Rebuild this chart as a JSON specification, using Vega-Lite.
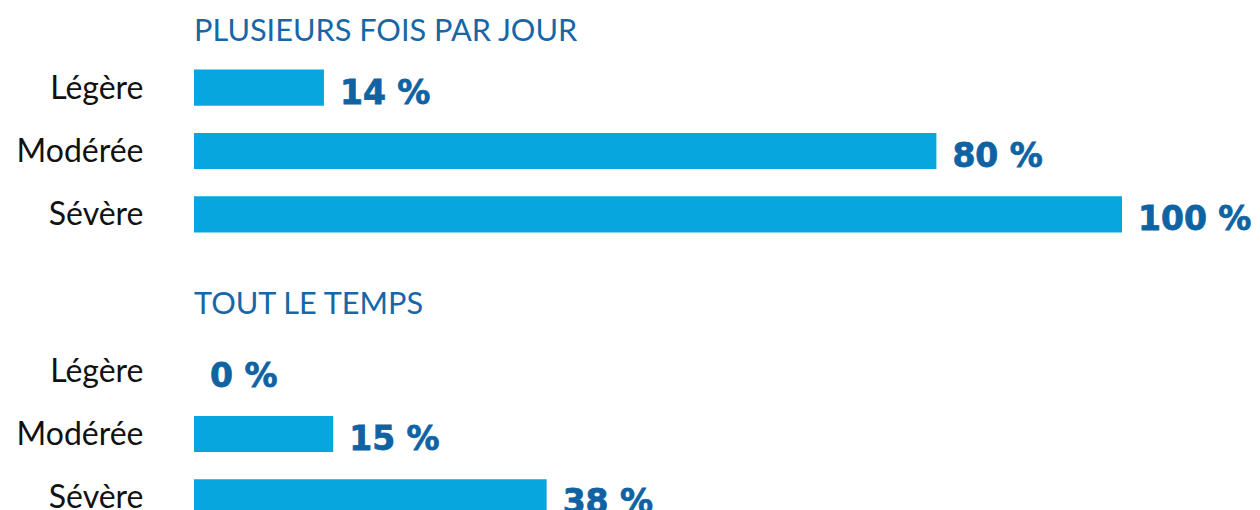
{
  "$schema": "https://vega.github.io/schema/vega-lite/v6.json",
  "padding": {"left": 0, "top": 16, "right": 0, "bottom": 0},
  "background": "white",
  "spacing": 43,
  "config": {
    "view": {"stroke": null},
    "axis": {"domain": false, "ticks": false, "grid": false}
  },
  "datasets": {
    "jour": [
      {"severite": "Légère", "valeur": 14, "label": "14 %"},
      {"severite": "Modérée", "valeur": 80, "label": "80 %"},
      {"severite": "Sévère", "valeur": 100, "label": "100 %"}
    ],
    "temps": [
      {"severite": "Légère", "valeur": 0, "label": "0 %"},
      {"severite": "Modérée", "valeur": 15, "label": "15 %"},
      {"severite": "Sévère", "valeur": 38, "label": "38 %"}
    ]
  },
  "vconcat": [
    {
      "data": {"name": "jour"},
      "width": 928,
      "height": 190,
      "title": {"text": "PLUSIEURS FOIS PAR JOUR", "anchor": "start", "frame": "group", "offset": 8, "font": "Lato", "fontSize": 30.7, "fontWeight": "normal", "color": "#1767a8"},
      "encoding": {
        "y": {"field": "severite", "type": "nominal", "sort": null, "title": null,
              "scale": {"paddingInner": 0.43, "paddingOuter": 0.215},
              "axis": {"labelFont": "Lato", "labelFontSize": 32, "labelColor": "#111111", "labelPadding": 51, "labelOffset": 1, "minExtent": 194, "maxExtent": 194}},
        "x": {"field": "valeur", "type": "quantitative", "scale": {"domain": [0, 100]}, "axis": null}
      },
      "layer": [
        {"mark": {"type": "bar", "color": "#07a6df"}},
        {"mark": {"type": "text", "align": "left", "baseline": "alphabetic", "dx": 16, "dy": 16, "font": "DejaVu Sans", "fontWeight": "bold", "fontSize": 33, "color": "#0f63a3", "stroke": "#0f63a3", "strokeWidth": 0.8},
         "encoding": {"text": {"field": "label"}}}
      ]
    },
    {
      "data": {"name": "temps"},
      "width": 928,
      "height": 190,
      "title": {"text": "TOUT LE TEMPS", "anchor": "start", "frame": "group", "offset": 18, "font": "Lato", "fontSize": 30.7, "fontWeight": "normal", "color": "#1767a8"},
      "encoding": {
        "y": {"field": "severite", "type": "nominal", "sort": null, "title": null,
              "scale": {"paddingInner": 0.43, "paddingOuter": 0.215},
              "axis": {"labelFont": "Lato", "labelFontSize": 32, "labelColor": "#111111", "labelPadding": 51, "labelOffset": 1, "minExtent": 194, "maxExtent": 194}},
        "x": {"field": "valeur", "type": "quantitative", "scale": {"domain": [0, 100]}, "axis": null}
      },
      "layer": [
        {"mark": {"type": "bar", "color": "#07a6df"}},
        {"mark": {"type": "text", "align": "left", "baseline": "alphabetic", "dx": 16, "dy": 16, "font": "DejaVu Sans", "fontWeight": "bold", "fontSize": 33, "color": "#0f63a3", "stroke": "#0f63a3", "strokeWidth": 0.8},
         "encoding": {"text": {"field": "label"}}}
      ]
    }
  ]
}
